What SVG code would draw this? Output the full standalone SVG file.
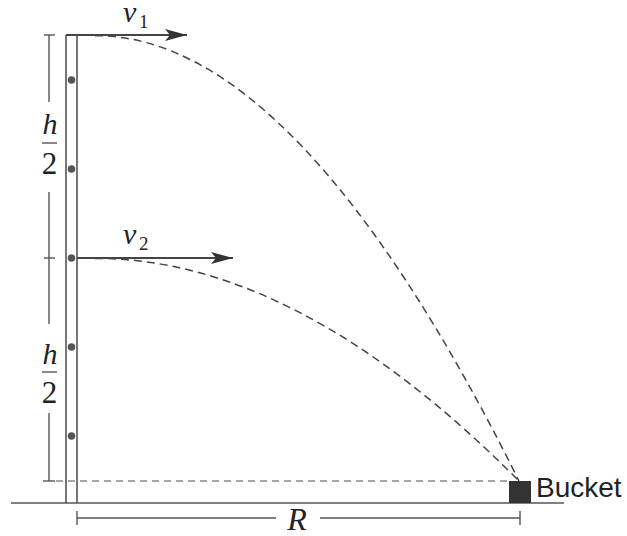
<svg xmlns="http://www.w3.org/2000/svg" width="627" height="536" viewBox="0 0 627 536">
<defs>
<style>
.ln{stroke:#555;stroke-width:1.6;fill:none}
.dim{stroke:#555;stroke-width:1.4;fill:none}
.traj{stroke:#444;stroke-width:1.5;fill:none;stroke-dasharray:8 5}
.ref{stroke:#888;stroke-width:1.3;fill:none;stroke-dasharray:7 5}
.arr{stroke:#444;stroke-width:1.8;fill:none}
.dot{fill:#555}
.m{font-family:"Liberation Serif","Times New Roman",serif;fill:#222}
.it{font-style:italic}
.lbl{font-family:"Liberation Sans",Arial,sans-serif;fill:#222}
</style>
<marker id="ah" viewBox="0 0 22 12" refX="22" refY="6" markerWidth="22" markerHeight="12" markerUnits="userSpaceOnUse" orient="auto">
<path d="M0,0 L22,6 L0,12 L5,6 Z" fill="#333"/>
</marker>
</defs>
<g id="ground"><line class="ln" x1="11" y1="503" x2="564" y2="503"/></g>
<g id="pole">
<line class="ln" x1="66" y1="35" x2="66" y2="503"/>
<line class="ln" x1="77" y1="35" x2="77" y2="503"/>
<circle class="dot" cx="71.5" cy="80" r="3.8"/>
<circle class="dot" cx="71.5" cy="169" r="3.8"/>
<circle class="dot" cx="71.5" cy="258" r="3.8"/>
<circle class="dot" cx="71.5" cy="347" r="3.8"/>
<circle class="dot" cx="71.5" cy="436" r="3.8"/>
</g>
<g id="bucket">
<rect x="509" y="481" width="22" height="22" fill="#333"/>
<text class="lbl" x="536" y="497" font-size="28">Bucket</text>
</g>
<g id="connectors">
<line class="ref" x1="56" y1="481" x2="509" y2="481"/>
<path class="traj" d="M95,35.7 Q297.5,35 519,481"/>
<path class="traj" d="M95,258.4 Q297.5,258 519,481"/>
<line class="arr" x1="66" y1="35" x2="187" y2="35" marker-end="url(#ah)"/>
<line class="arr" x1="77" y1="258" x2="233" y2="258" marker-end="url(#ah)"/>
</g>
<g id="dim-h">
<line class="dim" x1="44" y1="35" x2="55" y2="35"/>
<line class="dim" x1="44" y1="258" x2="55" y2="258"/>
<line class="dim" x1="43" y1="481" x2="55" y2="481"/>
<line class="dim" x1="49" y1="35" x2="49" y2="102"/>
<line class="dim" x1="49" y1="192" x2="49" y2="324"/>
<line class="dim" x1="49" y1="413" x2="49" y2="481"/>
<text class="m it" x="50" y="134" font-size="30" text-anchor="middle">h</text>
<line class="dim" x1="42" y1="143" x2="57" y2="143"/>
<text class="m" x="49.5" y="174" font-size="31" text-anchor="middle">2</text>
<text class="m it" x="50" y="364" font-size="30" text-anchor="middle">h</text>
<line class="dim" x1="42" y1="372" x2="57" y2="372"/>
<text class="m" x="49.5" y="403" font-size="31" text-anchor="middle">2</text>
</g>
<g id="dim-R">
<line class="dim" x1="77" y1="511" x2="77" y2="525"/>
<line class="dim" x1="520" y1="511" x2="520" y2="525"/>
<line class="dim" x1="77" y1="518" x2="276" y2="518"/>
<line class="dim" x1="320" y1="518" x2="520" y2="518"/>
<text class="m it" x="297" y="530" font-size="32" text-anchor="middle">R</text>
</g>
<g id="v1">
<text class="m it" x="123" y="22" font-size="30">v</text>
<text class="m" x="139" y="28" font-size="19">1</text>
</g>
<g id="v2">
<text class="m it" x="123" y="244" font-size="30">v</text>
<text class="m" x="139" y="250" font-size="19">2</text>
</g>
</svg>
